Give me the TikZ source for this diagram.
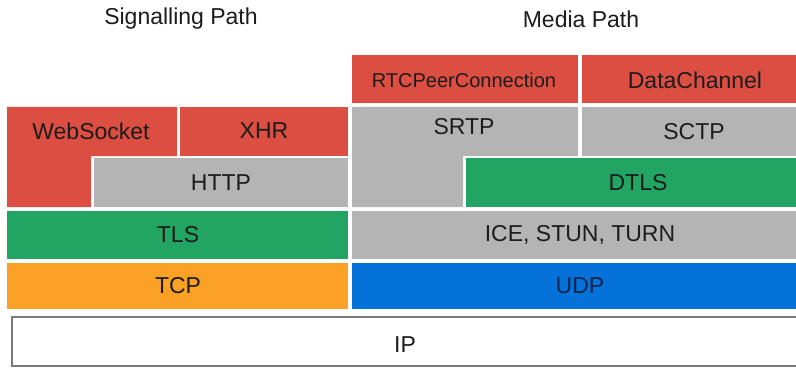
\documentclass[tikz,border=0pt]{standalone}
\usepackage{fontspec}
\setmainfont{Liberation Sans}
\definecolor{lred}{HTML}{DC4E41}
\definecolor{lgray}{HTML}{B4B4B4}
\definecolor{lgreen}{HTML}{22A462}
\definecolor{lorange}{HTML}{FBA125}
\definecolor{lblue}{HTML}{0572DA}
\definecolor{ltext}{HTML}{1C1C1C}
\definecolor{ipborder}{HTML}{7A7A7A}
\begin{document}
\begin{tikzpicture}[x=1pt,y=-1pt,
  lbl/.style={inner sep=0pt, text=ltext, font=\fontsize{23}{26}\selectfont},
  smalllbl/.style={lbl, font=\fontsize{20}{23}\selectfont},
  title/.style={lbl, font=\fontsize{23}{26}\selectfont}]
\useasboundingbox (0,0) rectangle (796,369);
\fill[white] (0,0) rectangle (796,369);

% titles
\node[title] (tsig) at (181,19) {Signalling Path};
\node[title] (tmed) at (581,19) {Media Path};

% top row (media)
\fill[lred] (352,55) rectangle (578,103);
\fill[lred] (582,55) rectangle (796,103);
\node[smalllbl] (rtc) at (464,80) {RTCPeerConnection};
\node[lbl] (dc) at (695,80) {DataChannel};

% WebSocket L-shape
\fill[lred] (7,107) -- (177,107) -- (177,156) -- (91,156) -- (91,207) -- (7,207) -- cycle;
\node[lbl] (ws) at (91,131) {WebSocket};
\fill[lred] (180,107) rectangle (348,156);
\node[lbl] (xhr) at (264,131) {XHR};
\fill[lgray] (94,158) rectangle (348,207);
\node[lbl] (http) at (221,183) {HTTP};

% SRTP L-shape
\fill[lgray] (352,107) -- (578,107) -- (578,156) -- (463,156) -- (463,207) -- (352,207) -- cycle;
\node[lbl] (srtp) at (464,127) {SRTP};
\fill[lgray] (582,107) rectangle (796,156);
\node[lbl] (sctp) at (694,132) {SCTP};
\fill[lgreen] (466,158) rectangle (796,207);
\node[lbl] (dtls) at (638,183) {DTLS};

% TLS / ICE
\fill[lgreen] (7,211) rectangle (348,259);
\node[lbl] (tls) at (178,235) {TLS};
\fill[lgray] (352,211) rectangle (796,259);
\node[lbl] (ice) at (580,235) {ICE, STUN, TURN};

% TCP / UDP
\fill[lorange] (7,263) rectangle (348,309);
\node[lbl] (tcp) at (178,286) {TCP};
\fill[lblue] (352,263) rectangle (796,309);
\node[lbl, text={rgb,255:red,12;green,36;blue,78}] (udp) at (580,286) {UDP};

% IP
\draw[ipborder, line width=2pt, fill=white] (12,317) rectangle (800,366);
\node[lbl] (ip) at (405,345) {IP};
\end{tikzpicture}
\end{document}
